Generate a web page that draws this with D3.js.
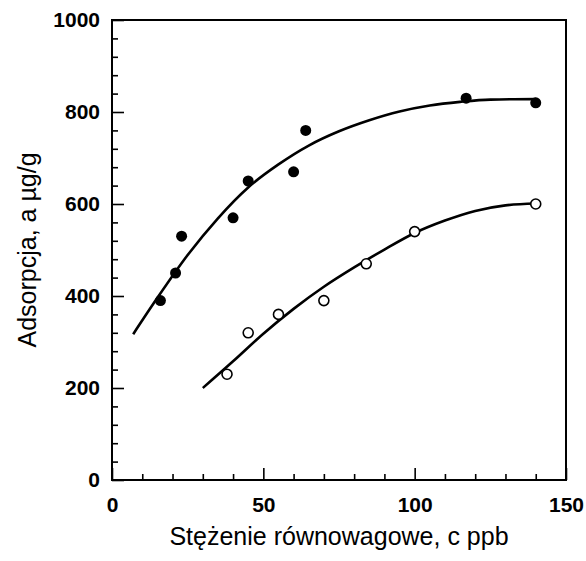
<!DOCTYPE html>
<html>
<head>
<meta charset="utf-8">
<script src="https://cdn.jsdelivr.net/npm/d3@7"></script>
<style>
  body { margin: 0; background: #fff; }
  text { font-family: "Liberation Sans", Arial, sans-serif; fill: #000; }
</style>
</head>
<body>
<div id="chart"></div>
<script>
// measured points (filled and open circles)
var filledC = [16, 21, 23, 40, 45, 60, 64, 117, 140];
var filledA = [390, 450, 530, 570, 650, 670, 760, 830, 820];
var openC = [38, 45, 55, 70, 84, 100, 140];
var openA = [230, 320, 360, 390, 470, 540, 600];

// fitted curves
var fitFilledC = [7, 15, 25, 35, 45, 55, 65, 75, 85, 95, 105, 115, 125, 140];
var fitFilledA = [317, 396, 489, 569, 636, 686, 727, 758, 782, 801, 814, 822, 827, 828];
var fitOpenC = [30, 40, 50, 60, 70, 80, 90, 100, 110, 120, 130, 140];
var fitOpenA = [200, 258, 318, 372, 420, 462, 501, 537, 564, 585, 597, 601];

var xTicks = [0, 50, 100, 150];
var yTicks = [0, 200, 400, 600, 800, 1000];

var width = 586, height = 561;
var margin = {left: 112, right: 20, top: 20, bottom: 81};

var x = d3.scaleLinear().domain([0, 150]).range([margin.left, width - margin.right]);
var y = d3.scaleLinear().domain([0, 1000]).range([height - margin.bottom, margin.top]);

var svg = d3.select("#chart")
    .append("svg")
    .attr("width", width)
    .attr("height", height);

// axes with inward ticks
var xMinor = d3.range(0, 151, 10).filter(function(d) { return d % 50 !== 0; });
var yMinor = d3.range(0, 1001, 40).filter(function(d) { return d % 200 !== 0; });

var gx = svg.append("g")
    .attr("transform", "translate(0," + y(0) + ")");
gx.call(d3.axisBottom(x).tickValues(xMinor).tickSize(-6).tickFormat(""));
gx.call(function(g) {
    g.append("g").call(d3.axisBottom(x).tickValues(xTicks).tickSize(-12).tickPadding(17).tickFormat(d3.format("d")));
});

var gy = svg.append("g")
    .attr("transform", "translate(" + x(0) + ",0)");
gy.call(d3.axisLeft(y).tickValues(yMinor).tickSize(-6).tickFormat(""));
gy.call(function(g) {
    g.append("g").call(d3.axisLeft(y).tickValues(yTicks).tickSize(-12).tickPadding(12).tickFormat(d3.format("d")));
});

svg.selectAll(".domain").remove();
svg.selectAll(".tick line").attr("stroke", "#000").attr("stroke-width", 1.6);
svg.selectAll(".tick text")
    .attr("font-size", "21px")
    .attr("font-weight", "bold")
    .attr("font-family", "'Liberation Sans', Arial, sans-serif");

// frame
svg.append("rect")
    .attr("x", x(0))
    .attr("y", y(1000))
    .attr("width", x(150) - x(0))
    .attr("height", y(0) - y(1000))
    .attr("fill", "none")
    .attr("stroke", "#000")
    .attr("stroke-width", 2);

// fitted lines
var line = d3.line()
    .x(function(d) { return x(d[0]); })
    .y(function(d) { return y(d[1]); })
    .curve(d3.curveMonotoneX);

svg.append("path")
    .datum(d3.zip(fitFilledC, fitFilledA))
    .attr("d", line)
    .attr("fill", "none")
    .attr("stroke", "#000")
    .attr("stroke-width", 2.6);

svg.append("path")
    .datum(d3.zip(fitOpenC, fitOpenA))
    .attr("d", line)
    .attr("fill", "none")
    .attr("stroke", "#000")
    .attr("stroke-width", 2.6);

// points
svg.selectAll(".filled")
    .data(d3.zip(filledC, filledA))
    .enter()
    .append("circle")
    .attr("class", "filled")
    .attr("cx", function(d) { return x(d[0]); })
    .attr("cy", function(d) { return y(d[1]); })
    .attr("r", 5.5)
    .attr("fill", "#000");

svg.selectAll(".open")
    .data(d3.zip(openC, openA))
    .enter()
    .append("circle")
    .attr("class", "open")
    .attr("cx", function(d) { return x(d[0]); })
    .attr("cy", function(d) { return y(d[1]); })
    .attr("r", 5)
    .attr("fill", "#fff")
    .attr("stroke", "#000")
    .attr("stroke-width", 1.6);

// axis titles
svg.append("text")
    .attr("x", (x(0) + x(150)) / 2)
    .attr("y", 545)
    .attr("text-anchor", "middle")
    .attr("font-size", "25px")
    .text("Stężenie równowagowe, c ppb");

svg.append("text")
    .attr("transform", "translate(36," + ((y(0) + y(1000)) / 2) + ") rotate(-90)")
    .attr("text-anchor", "middle")
    .attr("font-size", "25px")
    .text("Adsorpcja, a µg/g");
</script>
</body>
</html>
